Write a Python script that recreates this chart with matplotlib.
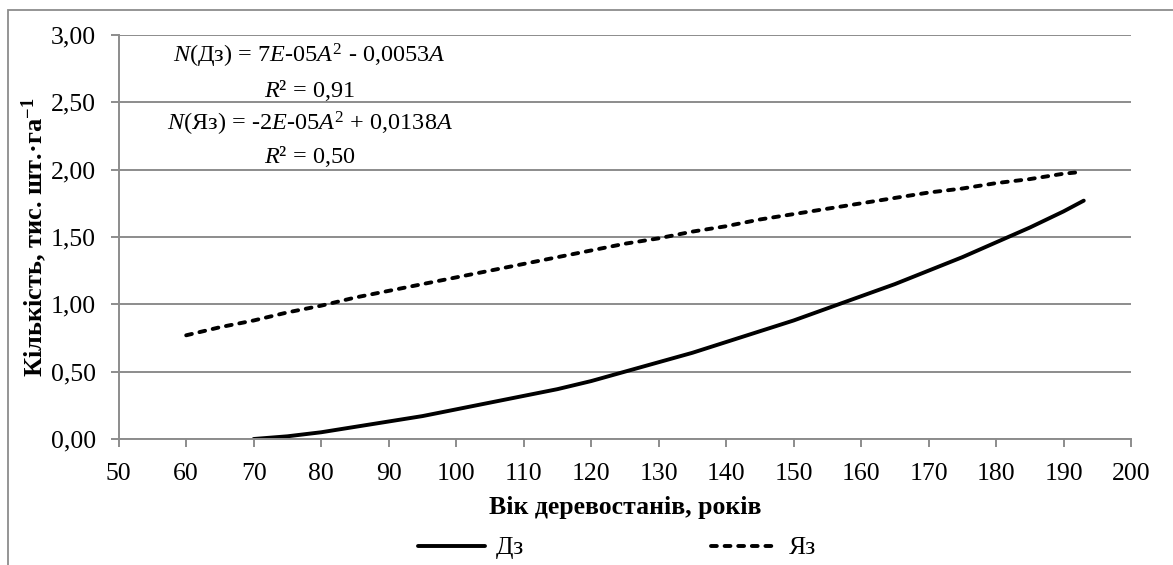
import matplotlib
matplotlib.use("Agg")
import matplotlib.pyplot as plt
from matplotlib.patches import Rectangle
from matplotlib.ticker import FuncFormatter, MultipleLocator

plt.rcParams['font.family'] = ['Liberation Serif', 'DejaVu Serif']
plt.rcParams['mathtext.fontset'] = 'custom'
plt.rcParams['mathtext.rm'] = 'Liberation Serif'
plt.rcParams['mathtext.it'] = 'Liberation Serif:italic'
plt.rcParams['mathtext.bf'] = 'Liberation Serif:bold'

# Дз - trend line
age_dz = [70, 75, 80, 85, 90, 95, 100, 105, 110, 115, 120, 125, 130, 135, 140,
          145, 150, 155, 160, 165, 170, 175, 180, 185, 190, 193]
n_dz = [0.00, 0.02, 0.05, 0.09, 0.13, 0.17, 0.22, 0.27, 0.32, 0.37, 0.43, 0.50,
        0.57, 0.64, 0.72, 0.80, 0.88, 0.97, 1.06, 1.15, 1.25, 1.35, 1.46, 1.57,
        1.69, 1.77]

# Яз - trend line
age_jaz = [60, 65, 70, 75, 80, 85, 90, 95, 100, 105, 110, 115, 120, 125, 130,
           135, 140, 145, 150, 155, 160, 165, 170, 175, 180, 185, 190, 192]
n_jaz = [0.77, 0.83, 0.88, 0.94, 0.99, 1.05, 1.10, 1.15, 1.20, 1.25, 1.30, 1.35,
         1.40, 1.45, 1.49, 1.54, 1.58, 1.63, 1.67, 1.71, 1.75, 1.79, 1.83, 1.86,
         1.90, 1.93, 1.97, 1.98]

eq_lines = ["$N$(Дз) = 7$E$-05$A^2$ - 0,0053$A$",
            "$R$² = 0,91",
            "$N$(Яз) = -2$E$-05$A^2$ + 0,0138$A$",
            "$R$² = 0,50"]
eq_y = [2.845, 2.59, 2.34, 2.095]

W, H = 1173, 565
fig = plt.figure(figsize=(W / 100, H / 100), dpi=100)
ax = fig.add_axes([118.7 / W, 1 - 439 / H, (1131 - 118.7) / W, (439 - 35) / H])

grey = '#8c8c8c'
fig.patches.append(Rectangle((8 / W, -0.2), 1.2, 1.2 - 9.5 / H,
                             transform=fig.transFigure, fill=False,
                             edgecolor=grey, linewidth=1.3))

ax.plot(age_dz, n_dz, color='black', lw=2.8, label='Дз', solid_capstyle='round')
ax.plot(age_jaz, n_jaz, color='black', lw=2.8, dashes=(1.5, 2.0),
        dash_capstyle='round', label='Яз')

for txt, y in zip(eq_lines, eq_y):
    ax.text(78.3, y, txt, ha='center', va='center', fontsize=17.5)

ax.set_xlim(50, 200)
ax.set_ylim(0, 3)
ax.xaxis.set_major_locator(MultipleLocator(10))
ax.yaxis.set_major_locator(MultipleLocator(0.5))
ax.yaxis.set_major_formatter(FuncFormatter(lambda v, p: f"{v:.2f}".replace('.', ',')))
ax.grid(axis='y', color=grey, lw=1.4)
ax.set_axisbelow(True)
for s in ['top', 'right']:
    ax.spines[s].set_visible(False)
for s in ['left', 'bottom']:
    ax.spines[s].set_color(grey)
    ax.spines[s].set_linewidth(1.4)
ax.tick_params(axis='both', direction='out', length=5.5, width=1.4, color=grey,
               labelsize=18.5)
ax.tick_params(axis='x', pad=12)
ax.tick_params(axis='y', pad=11)

ax.set_xlabel('Вік деревостанів, років', fontsize=18.5, fontweight='bold', labelpad=8)
ax.set_ylabel('Кількість, тис. шт.·га$^{\\mathbf{-1}}$', fontsize=19,
              fontweight='bold', labelpad=1)

ax.legend(loc='center', bbox_to_anchor=(617 / W, 1 - 548 / H),
          bbox_transform=fig.transFigure, ncol=2, frameon=False, fontsize=18.5,
          handlelength=2.6, handletextpad=0.4, columnspacing=7.3,
          borderpad=0, borderaxespad=0)

fig.savefig('out.png', dpi=100)
